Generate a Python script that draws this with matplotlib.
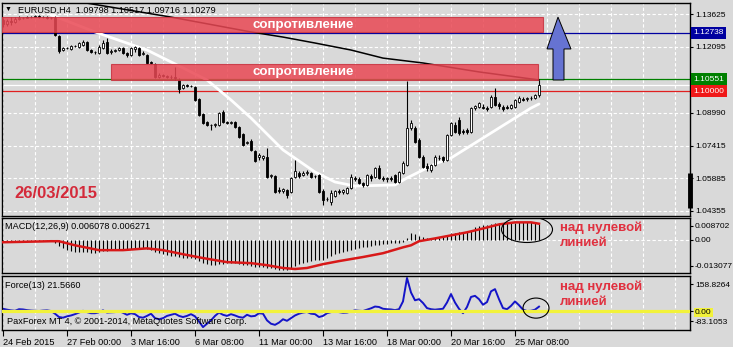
import matplotlib
matplotlib.use('Agg')
import matplotlib.pyplot as plt
from matplotlib.patches import Rectangle, Ellipse, Polygon
import numpy as np

plt.rcParams['font.family'] = ['Liberation Sans', 'DejaVu Sans']

# ---- EURUSD H4 candles (24 Feb - 26 Mar 2015) ----
opens = [
    1.1334, 1.1315, 1.1330, 1.1325, 1.1339, 1.1344, 1.1344, 1.1348, 1.1348, 1.1353,
    1.1348, 1.1348, 1.1344, 1.1344, 1.1259, 1.1193, 1.1203, 1.1198, 1.1212, 1.1207,
    1.1217, 1.1231, 1.1193, 1.1184, 1.1179, 1.1203, 1.1231, 1.1184, 1.1188, 1.1193,
    1.1203, 1.1179, 1.1170, 1.1198, 1.1203, 1.1174, 1.1170, 1.1137, 1.1127, 1.1066,
    1.1075, 1.1071, 1.1066, 1.1066, 1.1052, 1.1014, 1.1028, 1.1024, 1.1019, 1.0962,
    1.0892, 1.0854, 1.0840, 1.0840, 1.0840, 1.0901, 1.0854, 1.0850, 1.0854, 1.0831,
    1.0798, 1.0755, 1.0765, 1.0718, 1.0690, 1.0685, 1.0690, 1.0600, 1.0600, 1.0534,
    1.0530, 1.0534, 1.0525, 1.0595, 1.0614, 1.0605, 1.0614, 1.0614, 1.0600, 1.0605,
    1.0530, 1.0492, 1.0478, 1.0506, 1.0530, 1.0525, 1.0520, 1.0544, 1.0591, 1.0586,
    1.0567, 1.0558, 1.0600, 1.0595, 1.0638, 1.0591, 1.0586, 1.0591, 1.0605, 1.0572,
    1.0614, 1.0652, 1.0826, 1.0826, 1.0770, 1.0690, 1.0647, 1.0628, 1.0652, 1.0685,
    1.0690, 1.0675, 1.0793, 1.0840, 1.0864, 1.0812, 1.0817, 1.0807, 1.0920, 1.0925,
    1.0925, 1.0920, 1.0925, 1.0972, 1.0939, 1.0925, 1.0925, 1.0920, 1.0925, 1.0948,
    1.0962, 1.0962, 1.0967, 1.0967, 1.09798]
highs = [
    1.1344, 1.1339, 1.1348, 1.1348, 1.1353, 1.1348, 1.1353, 1.1353, 1.1358, 1.1358,
    1.1353, 1.1353, 1.1348, 1.1353, 1.1264, 1.1207, 1.1207, 1.1217, 1.1217, 1.1231,
    1.1240, 1.1235, 1.1198, 1.1188, 1.1217, 1.1240, 1.1250, 1.1198, 1.1198, 1.1207,
    1.1207, 1.1184, 1.1207, 1.1212, 1.1207, 1.1188, 1.1174, 1.1141, 1.1132, 1.1085,
    1.1080, 1.1075, 1.1075, 1.1113, 1.1061, 1.1033, 1.1033, 1.1028, 1.1024, 1.0967,
    1.0897, 1.0859, 1.0845, 1.0850, 1.0901, 1.0911, 1.0859, 1.0859, 1.0859, 1.0835,
    1.0802, 1.0765, 1.0774, 1.0723, 1.0708, 1.0699, 1.0732, 1.0610, 1.0605, 1.0548,
    1.0544, 1.0539, 1.0595, 1.0675, 1.0624, 1.0624, 1.0628, 1.0619, 1.0605, 1.0610,
    1.0539, 1.0501, 1.0534, 1.0534, 1.0539, 1.0539, 1.0548, 1.0610, 1.0600, 1.0595,
    1.0572, 1.0610, 1.0610, 1.0642, 1.0652, 1.0600, 1.0595, 1.0600, 1.0610, 1.0624,
    1.0671, 1.1047, 1.0864, 1.0835, 1.0779, 1.0699, 1.0661, 1.0657, 1.0699, 1.0699,
    1.0694, 1.0798, 1.0854, 1.0854, 1.0878, 1.0821, 1.0826, 1.0925, 1.0934, 1.0948,
    1.0939, 1.0930, 1.0981, 1.1014, 1.0948, 1.0934, 1.0934, 1.0939, 1.0962, 1.0977,
    1.0972, 1.0972, 1.0977, 1.0986, 1.10517]
lows = [
    1.1301, 1.1306, 1.1311, 1.1320, 1.1334, 1.1339, 1.1344, 1.1344, 1.1348, 1.1344,
    1.1344, 1.1339, 1.1339, 1.1259, 1.1179, 1.1188, 1.1198, 1.1193, 1.1207, 1.1203,
    1.1212, 1.1188, 1.1179, 1.1174, 1.1174, 1.1198, 1.1174, 1.1174, 1.1184, 1.1188,
    1.1174, 1.1160, 1.1165, 1.1184, 1.1165, 1.1170, 1.1127, 1.1127, 1.1061, 1.1061,
    1.1066, 1.1061, 1.1057, 1.1052, 1.0991, 1.1010, 1.1019, 1.1019, 1.0953, 1.0882,
    1.0845, 1.0835, 1.0817, 1.0831, 1.0835, 1.0850, 1.0845, 1.0845, 1.0826, 1.0779,
    1.0741, 1.0751, 1.0718, 1.0666, 1.0675, 1.0675, 1.0591, 1.0591, 1.0520, 1.0520,
    1.0520, 1.0497, 1.0520, 1.0591, 1.0591, 1.0600, 1.0605, 1.0591, 1.0591, 1.0520,
    1.0464, 1.0482, 1.0464, 1.0501, 1.0515, 1.0515, 1.0515, 1.0539, 1.0577, 1.0562,
    1.0548, 1.0553, 1.0577, 1.0591, 1.0586, 1.0577, 1.0572, 1.0577, 1.0567, 1.0567,
    1.0610, 1.0647, 1.0817, 1.0755, 1.0685, 1.0638, 1.0624, 1.0619, 1.0647, 1.0675,
    1.0666, 1.0671, 1.0788, 1.0802, 1.0793, 1.0798, 1.0798, 1.0802, 1.0911, 1.0920,
    1.0915, 1.0906, 1.0920, 1.0930, 1.0915, 1.0906, 1.0915, 1.0915, 1.0920, 1.0944,
    1.0953, 1.0953, 1.0958, 1.0962, 1.09716]
closes = [
    1.1315, 1.1330, 1.1325, 1.1339, 1.1344, 1.1344, 1.1348, 1.1348, 1.1353, 1.1348,
    1.1348, 1.1344, 1.1344, 1.1264, 1.1188, 1.1203, 1.1203, 1.1212, 1.1212, 1.1226,
    1.1231, 1.1193, 1.1184, 1.1184, 1.1207, 1.1226, 1.1179, 1.1188, 1.1193, 1.1203,
    1.1179, 1.1170, 1.1203, 1.1207, 1.1170, 1.1179, 1.1132, 1.1132, 1.1066, 1.1075,
    1.1071, 1.1066, 1.1066, 1.1061, 1.1010, 1.1028, 1.1024, 1.1024, 1.0958, 1.0887,
    1.0850, 1.0840, 1.0840, 1.0845, 1.0897, 1.0854, 1.0850, 1.0854, 1.0831, 1.0784,
    1.0746, 1.0760, 1.0723, 1.0671, 1.0699, 1.0694, 1.0595, 1.0605, 1.0525, 1.0530,
    1.0539, 1.0511, 1.0591, 1.0624, 1.0600, 1.0614, 1.0619, 1.0595, 1.0600, 1.0525,
    1.0487, 1.0492, 1.0520, 1.0530, 1.0525, 1.0534, 1.0544, 1.0595, 1.0586, 1.0567,
    1.0558, 1.0605, 1.0591, 1.0638, 1.0591, 1.0586, 1.0591, 1.0586, 1.0572, 1.0619,
    1.0661, 1.0826, 1.0850, 1.0760, 1.0690, 1.0642, 1.0638, 1.0652, 1.0690, 1.0685,
    1.0675, 1.0793, 1.0850, 1.0807, 1.0802, 1.0807, 1.0807, 1.0920, 1.0930, 1.0944,
    1.0920, 1.0915, 1.0972, 1.0934, 1.0930, 1.0915, 1.0920, 1.0934, 1.0958, 1.0967,
    1.0958, 1.0967, 1.0967, 1.0981, 1.10279]

# moving averages (read at a few bars)
slow_ma_bars = [18, 42, 62, 70, 78, 87, 95, 105, 119, 134]
slow_ma = [1.1423, 1.1348, 1.1278, 1.1254, 1.1226, 1.1193, 1.1155, 1.1132, 1.1090, 1.1052]
fast_ma_bars = [12, 14, 23, 36, 42, 51, 57, 62, 66, 70, 78, 83, 88, 98, 101, 104,
                108, 112, 116, 120, 124, 128, 132, 134]
fast_ma = [1.1358, 1.1344, 1.1278, 1.1193, 1.1137, 1.1052, 1.0958, 1.0873, 1.0798,
           1.0723, 1.0619, 1.0572, 1.0553, 1.0558, 1.0591, 1.0619, 1.0657, 1.0685,
           1.0732, 1.0779, 1.0826, 1.0873, 1.0920, 1.0939]

# MACD(12,26,9)
macd_main = [
    -0.0010, -0.0010, -0.0010, -0.0006, -0.0006, -0.0006, -0.0006, -0.0006, -0.0006, -0.0006,
    -0.0006, -0.0006, -0.0006, -0.0014, -0.0026, -0.0034, -0.0041, -0.0045, -0.0049, -0.0049,
    -0.0049, -0.0049, -0.0053, -0.0053, -0.0049, -0.0045, -0.0045, -0.0041, -0.0041, -0.0041,
    -0.0037, -0.0037, -0.0037, -0.0034, -0.0034, -0.0034, -0.0037, -0.0041, -0.0049, -0.0053,
    -0.0057, -0.0061, -0.0065, -0.0065, -0.0068, -0.0072, -0.0072, -0.0072, -0.0076, -0.0084,
    -0.0092, -0.0096, -0.0100, -0.0100, -0.0096, -0.0096, -0.0092, -0.0092, -0.0092, -0.0096,
    -0.0100, -0.0100, -0.0103, -0.0107, -0.0107, -0.0107, -0.0111, -0.0111, -0.0115, -0.0119,
    -0.0119, -0.0119, -0.0111, -0.0103, -0.0096, -0.0092, -0.0088, -0.0084, -0.0080, -0.0080,
    -0.0080, -0.0072, -0.0065, -0.0057, -0.0053, -0.0049, -0.0045, -0.0041, -0.0037, -0.0034,
    -0.0030, -0.0030, -0.0026, -0.0022, -0.0022, -0.0018, -0.0018, -0.0014, -0.0014, -0.0014,
    -0.0010, 0.0005, 0.0025, 0.0021, 0.0013, 0.0009, 0.0005, 0.0005, 0.0005, 0.0005,
    0.0009, 0.0017, 0.0025, 0.0025, 0.0029, 0.0029, 0.0033, 0.0040, 0.0048, 0.0052,
    0.0056, 0.0056, 0.0060, 0.0064, 0.0064, 0.0064, 0.0064, 0.0064, 0.0064, 0.0068,
    0.0068, 0.0068, 0.0068, 0.0064, 0.006078]
signal_bars = [0, 12, 14, 18, 24, 30, 36, 40, 45, 50, 56, 62, 66, 70, 73, 76, 80, 84,
               90, 95, 100, 102, 104, 108, 112, 116, 120, 124, 128, 132, 134]
signal = [-0.0010, -0.0006, -0.0006, -0.0022, -0.0041, -0.0041, -0.0034, -0.0041,
          -0.0057, -0.0072, -0.0088, -0.0092, -0.0100, -0.0111, -0.0115, -0.0111,
          -0.0096, -0.0084, -0.0068, -0.0053, -0.0030, -0.0022, -0.0006, 0.0005,
          0.0017, 0.0029, 0.0044, 0.0060, 0.0068, 0.0068, 0.006271]

# Force(13)
force = [
    12, 8, 5, 3, 10, 9, 6, 4, 3, 2, 4, 5, 2, -10, -25, -28, -22, -18, -12, -5,
    3, -3, -8, -8, -4, 5, -5, -4, -3, 2, -6, -15, -8, -12, -25, -28, -20, -10, -30, -35,
    -30, -20, -15, -10, -20, -25, -20, -12, -22, -45, -70, -55, -40, -20, -5, -15, -20, -12, -18, -25,
    -28, -15, -22, -20, -8, -10, -40, -55, -60, -50, -35, -42, -30, -18, -10, -5, -2, -10, -12, -25,
    -20, -8, -3, 2, -3, -6, -5, 0, 5, 3, 2, 8, 14, 22, 20, 12, 10, 9, 6, 10,
    45, 150, 85, 50, 55, 38, 15, 10, 8, 10, 12, 40, 78, 40, 12, -8, 20, 65, 70, 55,
    30, 42, 90, 100, 55, 15, 10, 25, 45, 28, 8, 2, 3, 8, 21.566]

# levels and objects
level_blue = 1.12738
level_green = 1.10551
level_red = 1.10000
bid = 1.10279
box_top = (-0.75, 135.0, 1.12778, 1.13484)    # bar from, bar to, price lo, price hi
box_mid = (27.0, 133.75, 1.10519, 1.11272)
arrow_shaft = (137.5, 140.25)
arrow_head = (136.0, 142.0, 138.75)
arrow_prices = (1.1052, 1.1198, 1.1348)       # base, head base, tip

price_ticks = [1.13625, 1.12095, 1.08990, 1.07415, 1.05885, 1.04355]
date_ticks = [0, 16, 32, 48, 64, 80, 96, 112, 128]
date_labels = ['24 Feb 2015', '27 Feb 00:00', '3 Mar 16:00', '6 Mar 08:00', '11 Mar 00:00',
               '13 Mar 16:00', '18 Mar 00:00', '20 Mar 16:00', '25 Mar 08:00']

BG = '#D9D9D9'
W, H = 733.0, 347.0
FS = 6.6
FSR = 6.0   # right-hand price scale
GRID = dict(color='white', lw=0.8, ls=(0, (3, 2)), zorder=0.5)


def panel(top, bottom):
    a = fig.add_axes([2 / W, 1 - bottom / H, 688 / W, (bottom - top) / H])
    a.set_facecolor(BG)
    a.set_xlim(-0.25, 171.75)
    for s in a.spines.values():
        s.set_color('black')
        s.set_linewidth(1.0)
    a.yaxis.tick_right()
    a.tick_params(axis='y', length=2.5, width=0.8, pad=1, labelsize=FSR, left=False)
    a.tick_params(axis='x', bottom=False, labelbottom=False)
    for g in range(0, 172, 8):
        a.axvline(g, **GRID)
    return a


def ftext(x, y, s, **kw):
    fig.text(x / W, 1 - y / H, s, va='center', ha='left', **kw)


fig = plt.figure(figsize=(W / 100, H / 100), dpi=100, facecolor=BG)
ax = panel(3, 215.5)
axm = panel(217.5, 273)
axf = panel(276, 330)

# ---- main chart ----
ax.set_ylim(1.04143, 1.14143)
ax.set_yticks(price_ticks, ['%.5f' % p for p in price_ticks])
for p in price_ticks + [level_green]:
    ax.axhline(p, **GRID)

ax.axhline(level_blue, color='#0000A0', lw=0.9, zorder=1.5)
ax.axhline(level_green, color='#008000', lw=0.9, zorder=1.5)
ax.axhline(level_red, color='#E02020', lw=0.9, zorder=1.5)
ax.axhline(bid, color='white', lw=0.9, zorder=1.5)

ax.plot(slow_ma_bars, slow_ma, color='black', lw=1.1, zorder=2)
ax.plot(fast_ma_bars, fast_ma, color='white', lw=2.0, zorder=2, solid_capstyle='round')

o, h, l, c = map(np.array, (opens, highs, lows, closes))
x = np.arange(len(closes))
ax.vlines(x, l, h, color='black', lw=0.8, zorder=3)
ax.bar(x, np.maximum(np.abs(c - o), 0.00003), bottom=np.minimum(o, c), width=0.7,
       color=np.where(c >= o, 'white', 'black'), edgecolor='black', linewidth=0.6, zorder=4)

for b0, b1, lo, hi in (box_top, box_mid):
    ax.add_patch(Rectangle((b0, lo), b1 - b0, hi - lo, fc='#E94854', ec='#C8303E',
                           lw=0.8, alpha=0.85, zorder=5))
    ax.text(62.3, (lo + hi) / 2, 'сопротивление', color='white', fontsize=9.6,
            fontweight='bold', va='center', ha='left', zorder=6)

s0, s1 = arrow_shaft
h0, h1, tip = arrow_head
pb, ph, pt = arrow_prices
ax.add_patch(Polygon([(s0, pb), (s1, pb), (s1, ph), (h1, ph), (tip, pt), (h0, ph), (s0, ph)],
                     closed=True, fc='#6673D2', ec='black', lw=0.7, zorder=6))

ax.plot([1, 1], [1.0614, 1.0450], transform=ax.get_yaxis_transform(), color='black',
        lw=3.5, solid_capstyle='butt', clip_on=False, zorder=7)

for val, col in ((level_blue, '#0000A0'), (level_green, '#008000'), (level_red, '#F01818')):
    ax.text(1.005, val, '%.5f' % val, transform=ax.get_yaxis_transform(), color='white',
            fontsize=FSR, va='center', ha='left',
            bbox=dict(boxstyle='square,pad=0.3', fc=col, ec='none'))

ax.text(2.75, 1.0520, '26/03/2015', color='#D42A3A', fontsize=12, fontweight='bold',
        va='center', ha='left', zorder=6)

# ---- MACD ----
axm.set_ylim(-0.01307, 0.00871)
axm.set_yticks([0.00557, 0.0, -0.01032], ['0.008702', '0.00', '-0.013077'])
axm.axhline(0, **GRID)
axm.vlines(x, 0, macd_main, color='black', lw=0.8, zorder=2)
axm.plot(signal_bars, signal, color='#D81818', lw=1.8, zorder=3)
axm.add_patch(Ellipse((131, 0.0040), 12.75, 0.0102, fill=False, ec='black', lw=0.8, zorder=4))

# ---- Force ----
axf.set_ylim(-83.1053, 158.8264)
axf.set_yticks([122.8, 0, -43], ['158.8264', '0.00', '-83.1053'])
axf.get_yticklabels()[1].set_bbox(dict(boxstyle='square,pad=0.15', fc='#F2F23A', ec='none'))
axf.plot(x, force, color='#1414C8', lw=1.4, zorder=2)
axf.axhline(0, color='#F2F23A', lw=2.3, zorder=3)
axf.add_patch(Ellipse((133.25, 15), 6.5, 90, fill=False, ec='black', lw=0.8, zorder=4))

axf.tick_params(axis='x', bottom=True, labelbottom=True, length=4, width=0.8,
                pad=1.5, labelsize=FS, direction='out')
axf.set_xticks(date_ticks, date_labels)
for t in axf.get_xticklabels():
    t.set_ha('left')

# ---- texts ----
ftext(5, 9.5, '▼', fontsize=5)
ftext(18, 10, 'EURUSD,H4  1.09798 1.10517 1.09716 1.10279', fontsize=FS)
ftext(5, 226.5, 'MACD(12,26,9) 0.006078 0.006271', fontsize=FS)
ftext(5, 285, 'Force(13) 21.5660', fontsize=FS)
ftext(7, 322, 'PaxForex MT 4, © 2001-2014, MetaQuotes Software Corp.', fontsize=FS)
for y1, y2 in ((228, 243), (287, 302)):
    ftext(560, y1, 'над нулевой', color='#E0303F', fontsize=9.5, fontweight='bold')
    ftext(560, y2, 'линией', color='#E0303F', fontsize=9.5, fontweight='bold')

fig.savefig('out.png', dpi=100, facecolor=BG)
